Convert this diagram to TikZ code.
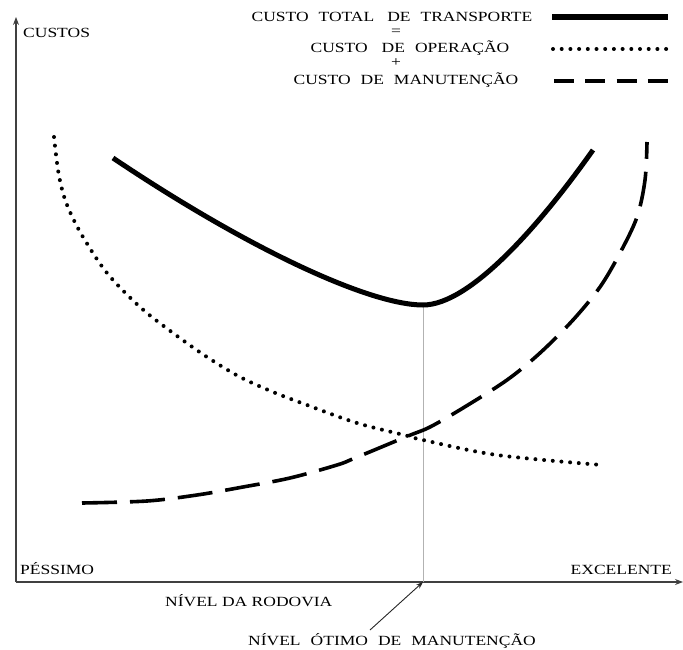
\documentclass[tikz,border=0pt]{standalone}
\usepackage{fontspec}
\setmainfont{Liberation Serif}[FakeStretch=1.25]
\usetikzlibrary{arrows.meta}
\newcommand{\wsp}{\hspace*{10pt}}
\begin{document}
\begin{tikzpicture}[x=1pt,y=-1pt,
  lbl/.style={inner sep=0pt, font=\fontsize{14}{16}\selectfont},
  axis/.style={draw=black!75, line width=1.1pt},
  total/.style={line width=5pt},
  operacao/.style={line width=4pt, line cap=round, dash pattern=on 0pt off 8.7pt},
  manut/.style={line width=3.6pt, dash pattern=on 35pt off 13pt},
  manutleg/.style={line width=3.6pt, dash pattern=on 20pt off 11.3pt},
  guide/.style={draw=black!30, line width=0.8pt},
  pointer/.style={draw=black!85, line width=0.9pt, -{Stealth[length=7pt,width=5pt]}}]
\useasboundingbox (0,0) rectangle (683,650);

% axes
\coordinate (O) at (16,582);
\coordinate (ytop) at (16,17);
\coordinate (xend) at (683,582);
\draw[axis, -{Stealth[length=8pt,width=6pt]}] (O) -- (ytop);
\draw[axis, -{Stealth[length=8pt,width=6pt]}] (O) -- (xend);

% axis labels
\node[lbl, anchor=base west] (custos) at (23,38) {CUSTOS};
\node[lbl, anchor=base west] (pessimo) at (20,574) {PÉSSIMO};
\node[lbl, anchor=base east] (excelente) at (672,574) {EXCELENTE};
\node[lbl, anchor=base west] (nivel) at (165,606) {NÍVEL DA RODOVIA};
\node[lbl, anchor=base east] (otimo) at (536,645) {NÍVEL\wsp ÓTIMO\wsp DE\wsp MANUTENÇÃO};

% optimum marker
\coordinate (inicio) at (113,158);
\coordinate (minimo) at (423,305);
\coordinate (fim) at (593,150);
\coordinate (base) at (423,582);
\draw[guide] (minimo) -- (base);
\coordinate (tail) at (370,630);
\draw[pointer] (tail) -- (base);

% cost curves
\draw[total] (inicio) .. controls (250,250) and (370,305) .. (minimo)
                      .. controls (470,305) and (540,225) .. (fim);
\draw[operacao] plot[smooth, tension=0.55] coordinates {(54,137) (58,170) (63,193) (70,212) (83,237) (107,273) (140,307) (173,333) (207,357) (240,377) (273,392) (307,405) (357,423) (408,436) (423,440) (497,455) (602,465)};
\draw[manut] plot[smooth, tension=0.55] coordinates {(82,503) (147,501) (197,495) (243,487) (290,478) (337,465) (355,458) (408,436) (430,427) (463,408) (507,380) (540,353) (573,320) (600,287) (620,253) (637,217) (645,180) (647,142)};

% legend
\node[lbl, anchor=base] (leg1) at (392,22) {CUSTO\wsp TOTAL\hspace*{13pt}DE\wsp TRANSPORTE};
\node[lbl, anchor=center] (eq) at (396,32) {=};
\node[lbl, anchor=base] (leg2) at (410,53) {CUSTO\hspace*{14pt}DE\wsp OPERAÇÃO};
\node[lbl, anchor=center] (plus) at (396,63) {+};
\node[lbl, anchor=base] (leg3) at (406,85) {CUSTO\wsp DE\wsp MANUTENÇÃO};
\coordinate (l1a) at (552,17); \coordinate (l1b) at (668,17);
\coordinate (l2a) at (553,49); \coordinate (l2b) at (668,49);
\coordinate (l3a) at (554,81); \coordinate (l3b) at (668,81);
\draw[total, line width=6pt] (l1a) -- (l1b);
\draw[operacao] (l2a) -- (l2b);
\draw[manutleg] (l3a) -- (l3b);
\end{tikzpicture}
\end{document}
